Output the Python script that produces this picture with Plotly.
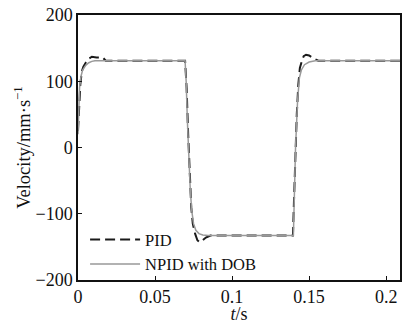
import plotly.graph_objects as go

# PID response (dashed black)
pid_t = [0, 0.0008, 0.0015, 0.0025, 0.0035, 0.005, 0.007, 0.009, 0.012, 0.016, 0.018,
         0.0695, 0.0705, 0.0715, 0.0725, 0.0735, 0.0745, 0.0760, 0.0775, 0.0790, 0.0810,
         0.0830, 0.0860, 0.1395, 0.1402, 0.1410, 0.1420, 0.1430, 0.1440, 0.1455, 0.1465,
         0.1480, 0.1500, 0.1530, 0.1560, 0.209]
pid_v = [25, 60, 95, 115, 122, 128, 134, 137, 136, 136, 131,
         131, 90, 20, -40, -90, -115, -130, -140, -143, -140,
         -136, -133, -133, -80, -10, 50, 95, 120, 132, 138,
         140, 139, 134, 131, 131]

# NPID with DOB response (grey)
npid_t = [0, 0.0005, 0.001, 0.002, 0.003, 0.005, 0.007, 0.009, 0.011,
          0.0695, 0.0702, 0.0710, 0.0718, 0.0728, 0.0738, 0.0750, 0.0765, 0.0785, 0.0810,
          0.0845, 0.1398, 0.1405, 0.1412, 0.1425, 0.1437, 0.1450, 0.1470, 0.1500, 0.1540, 0.209]
npid_v = [20, 60, 90, 108, 117, 124, 128, 130, 131,
          131, 100, 40, -10, -60, -95, -115, -125, -130, -132,
          -133, -133, -60, 0, 70, 105, 117, 125, 129, 131, 131]

x_ticks = [0, 0.05, 0.1, 0.15, 0.2]
x_labels = ["0", "0.05", "0.1", "0.15", "0.2"]
y_ticks = [-200, -100, 0, 100, 200]

FONT = "Liberation Serif"

fig = go.Figure()
fig.add_trace(go.Scatter(x=pid_t, y=pid_v, mode="lines", name="PID",
                         line=dict(color="#1a1a1a", width=2, dash="10px,5px")))
fig.add_trace(go.Scatter(x=npid_t, y=npid_v, mode="lines", name="NPID with DOB",
                         line=dict(color="#999999", width=1.5)))

fig.update_layout(
    width=402, height=324,
    margin=dict(l=78, r=2, t=15, b=44),
    paper_bgcolor="white", plot_bgcolor="white",
    font=dict(family=FONT, size=18, color="#111"),
    showlegend=True,
    legend=dict(x=0.022, y=-0.005, xanchor="left", yanchor="bottom",
                bgcolor="rgba(0,0,0,0)", font=dict(size=16.5, family=FONT),
                tracegroupgap=0, itemwidth=50),
    xaxis=dict(range=[0, 0.209], tickvals=x_ticks, ticktext=x_labels,
               ticks="inside", ticklen=4, tickcolor="#111",
               showline=True, linecolor="#111", linewidth=1.5, mirror=True,
               showgrid=False, zeroline=False, automargin=False,
               title=dict(text="<i>t</i>/s", standoff=0, font=dict(size=18))),
    yaxis=dict(range=[-200, 200], tickvals=y_ticks,
               ticks="inside", ticklen=4, tickcolor="#111",
               showline=True, linecolor="#111", linewidth=1.5, mirror=True,
               showgrid=False, zeroline=False, automargin=False,
               title=dict(text="Velocity/mm·s<sup>−1</sup>", standoff=0, font=dict(size=18.5))),
)

fig.write_html("out.html", config={"displayModeBar": False},
               post_script="document.body.style.margin='0';")
